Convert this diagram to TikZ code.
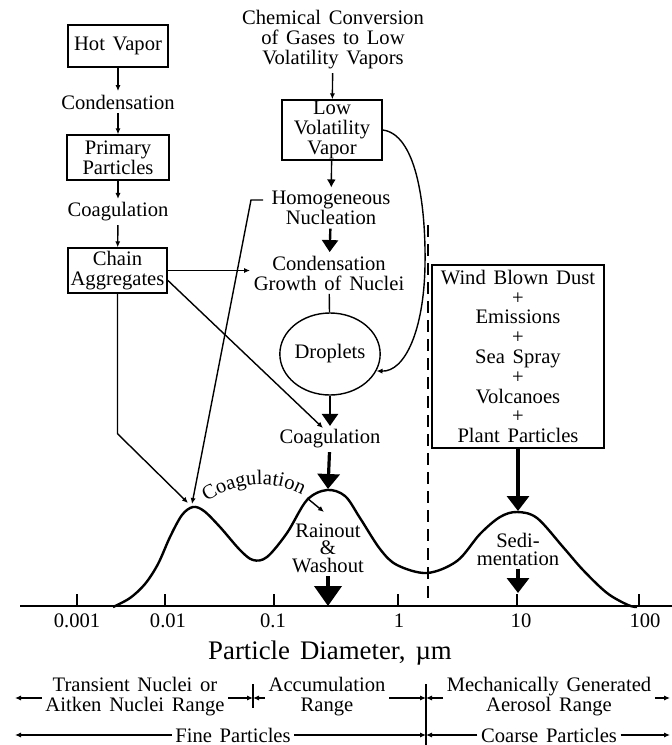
\documentclass[tikz,border=0pt]{standalone}
\usepackage{fontspec}
\setmainfont[WordSpace=1.5]{Liberation Serif}
\usetikzlibrary{arrows.meta,decorations.text,shapes.geometric}
\begin{document}
\begin{tikzpicture}[x=0.5pt,y=-0.5pt,line width=0.7pt,
  font=\fontsize{10.3}{10}\selectfont,
  box/.style={draw,line width=0.7pt,inner sep=0pt,align=center},
  lbl/.style={align=center,inner sep=1.5pt},
  sarr/.style={-{Latex[length=3pt,width=2.6pt]}},
  marr/.style={-{Latex[length=4pt,width=4.5pt]}},
  barrs/.style={line width=1.2pt,-{Triangle[length=6pt,width=8pt]}},
  barr/.style={line width=1.6pt,-{Triangle[length=7.5pt,width=11pt]}},
  barrl/.style={line width=2pt,-{Triangle[length=10pt,width=13.5pt]}},
  tick/.style={line width=0.7pt}]
\useasboundingbox (0,0) rectangle (672,745);

% ---- left column
\node[box,minimum width=50pt,minimum height=21pt] (hot) at (118,46) {Hot Vapor};
\node[lbl] (cond1) at (118,102) {Condensation};
\node[box,minimum width=51pt,minimum height=22.5pt] (prim) at (118,157.5) {Primary\\Particles};
\node[lbl] (coag1) at (118,212) {Coagulation};
\node[box,minimum width=49.5pt,minimum height=22.5pt] (chain) at (117.5,270.5) {Chain\\Aggregates};
\draw[sarr] (hot) -- (cond1);
\draw[sarr] (cond1) -- (prim);
\draw[sarr] (prim) -- (coag1);
\draw[sarr] (coag1) -- (chain);

% ---- middle column
\node[lbl] (chem) at (333,40) {Chemical Conversion\\of Gases to Low\\Volatility Vapors};
\node[box,minimum width=50pt,minimum height=30pt] (low) at (332,130) {Low\\Volatility\\Vapor};
\node[lbl] (homog) at (331,208) {Homogeneous\\Nucleation};
\node[lbl] (cgrowth) at (329,273) {Condensation\\Growth of Nuclei};
\node[draw,ellipse,minimum width=47pt,minimum height=41pt,inner sep=0pt] (drop) at (330,354) {Droplets};
\node[lbl] (coag2) at (330,439) {Coagulation};
\draw[sarr] (chem) -- (low);
\draw[marr] (low) -- (homog);
\draw[barrs] (homog) -- (cgrowth);
\draw (cgrowth) -- (drop);
\draw[barrs] (drop) -- (coag2);
\draw[sarr] (low.east) .. controls (415,134) and (426,200) .. (425,265)
  .. controls (424,330) and (405,372) .. (drop.-20);

% ---- right box
\node[box,minimum width=86pt,minimum height=91.5pt,font=\fontsize{10.3}{9.9}\selectfont] (wind) at (518,356.5)
  {Wind Blown Dust\\+\\Emissions\\+\\Sea Spray\\+\\Volcanoes\\+\\Plant Particles};

% ---- key points on the curve
\coordinate (pk1a) at (188,503);
\coordinate (pk1b) at (192,504);
\coordinate (pk2) at (328,489);
\coordinate (pk3) at (518,511);
\coordinate (c2in) at (323,428);
\coordinate (h0) at (263,200);
\coordinate (h1) at (251,200);
\coordinate (ra0) at (307,498);
\coordinate (ra1) at (324,512);
\coordinate (rtip) at (328,606);
\coordinate (stip) at (518,593);

% ---- chain aggregate connectors
\draw[sarr] (chain.east) -- (chain.east -| cgrowth.west);
\draw[sarr] (chain.-11) -- (c2in);
\draw[sarr] (chain.south) -- ++(0,140) -- (pk1a);
\draw[sarr] (h0) -- (h1) -- (pk1b);

% ---- dashed divider
\draw[dash pattern=on 6pt off 3.5pt] (428,225) -- (428,605);

% ---- axis
\draw (20,606) -- (672,606);
\foreach \x/\t/\lx in {77/0.001/77,165/0.01/168,274/0.1/273,398/1/399,517/10/521,639/100/645}{
  \draw[tick] (\x,594) -- (\x,606);
  \node[lbl] at (\lx,621) {\t};
}
\node[font=\fontsize{13.4}{14}\selectfont] (title) at (330,653) {Particle Diameter, µm};

% ---- distribution curve
\draw[line width=1.2pt] plot[smooth,tension=0.55] coordinates {
 (113,607) (130,598) (145,584) (158,564) (170,537) (182,515) (193,507) (204,511)
 (220,527) (240,550) (253,560) (267,557) (287,533) (307,500) (327,490)
 (345,496) (360,518) (380,549) (397,565) (427,573) (457,561) (480,534)
 (500,517) (517,512) (537,518) (563,547) (583,570) (607,593) (628,605) (637,607)};

% ---- curve annotations
\draw[barr] (coag2) -- (pk2);
\draw[sarr] (ra0) -- (ra1);
\node[lbl,font=\fontsize{10.3}{8.8}\selectfont] (rain) at (328,548) {Rainout\\\&\\Washout};
\draw[barrl] (rain) -- (rtip);
\draw[barr] (wind) -- (pk3);
\node[lbl,font=\fontsize{10.3}{9}\selectfont] (sedi) at (518,549) {Sedi-\\mentation};
\draw[barr] (sedi) -- (stip);
\path[decorate,decoration={text along path,text align=center,
  text={|\fontsize{10.3}{10}\selectfont|Coagulation}}]
  (203,504) .. controls (235,481) and (275,478) .. (306,497);

% ---- size ranges
\node[lbl] (tn) at (135,697) {Transient Nuclei or\\Aitken Nuclei Range};
\node[lbl] (acc) at (327,697) {Accumulation\\Range};
\node[lbl] (mech) at (549,697) {Mechanically Generated\\Aerosol Range};
\coordinate (lend) at (15,698);
\coordinate (d1) at (253,698);
\coordinate (d2) at (426,698);
\coordinate (rend) at (670,698);
\draw[sarr] (tn.west |- lend) -- (lend);
\draw[sarr] (tn.east |- d1) -- (d1);
\draw[sarr] (acc.west |- d1) -- (d1);
\draw[sarr] (acc.east |- d2) -- (d2);
\draw[sarr] (mech.west |- d2) -- (d2);
\draw[sarr] (mech.east |- rend) -- (rend);
\draw (253,684) -- (253,708);
\draw (426,684) -- (426,745);

\node[lbl] (fine) at (233,735) {Fine Particles};
\node[lbl] (coarse) at (549,735) {Coarse Particles};
\coordinate (fl) at (15,735);
\coordinate (fr) at (426,735);
\coordinate (cr) at (670,735);
\draw[sarr] (fine.west) -- (fl);
\draw[sarr] (fine.east) -- (fr);
\draw[sarr] (coarse.west) -- (fr);
\draw[sarr] (coarse.east) -- (cr);
\end{tikzpicture}
\end{document}
